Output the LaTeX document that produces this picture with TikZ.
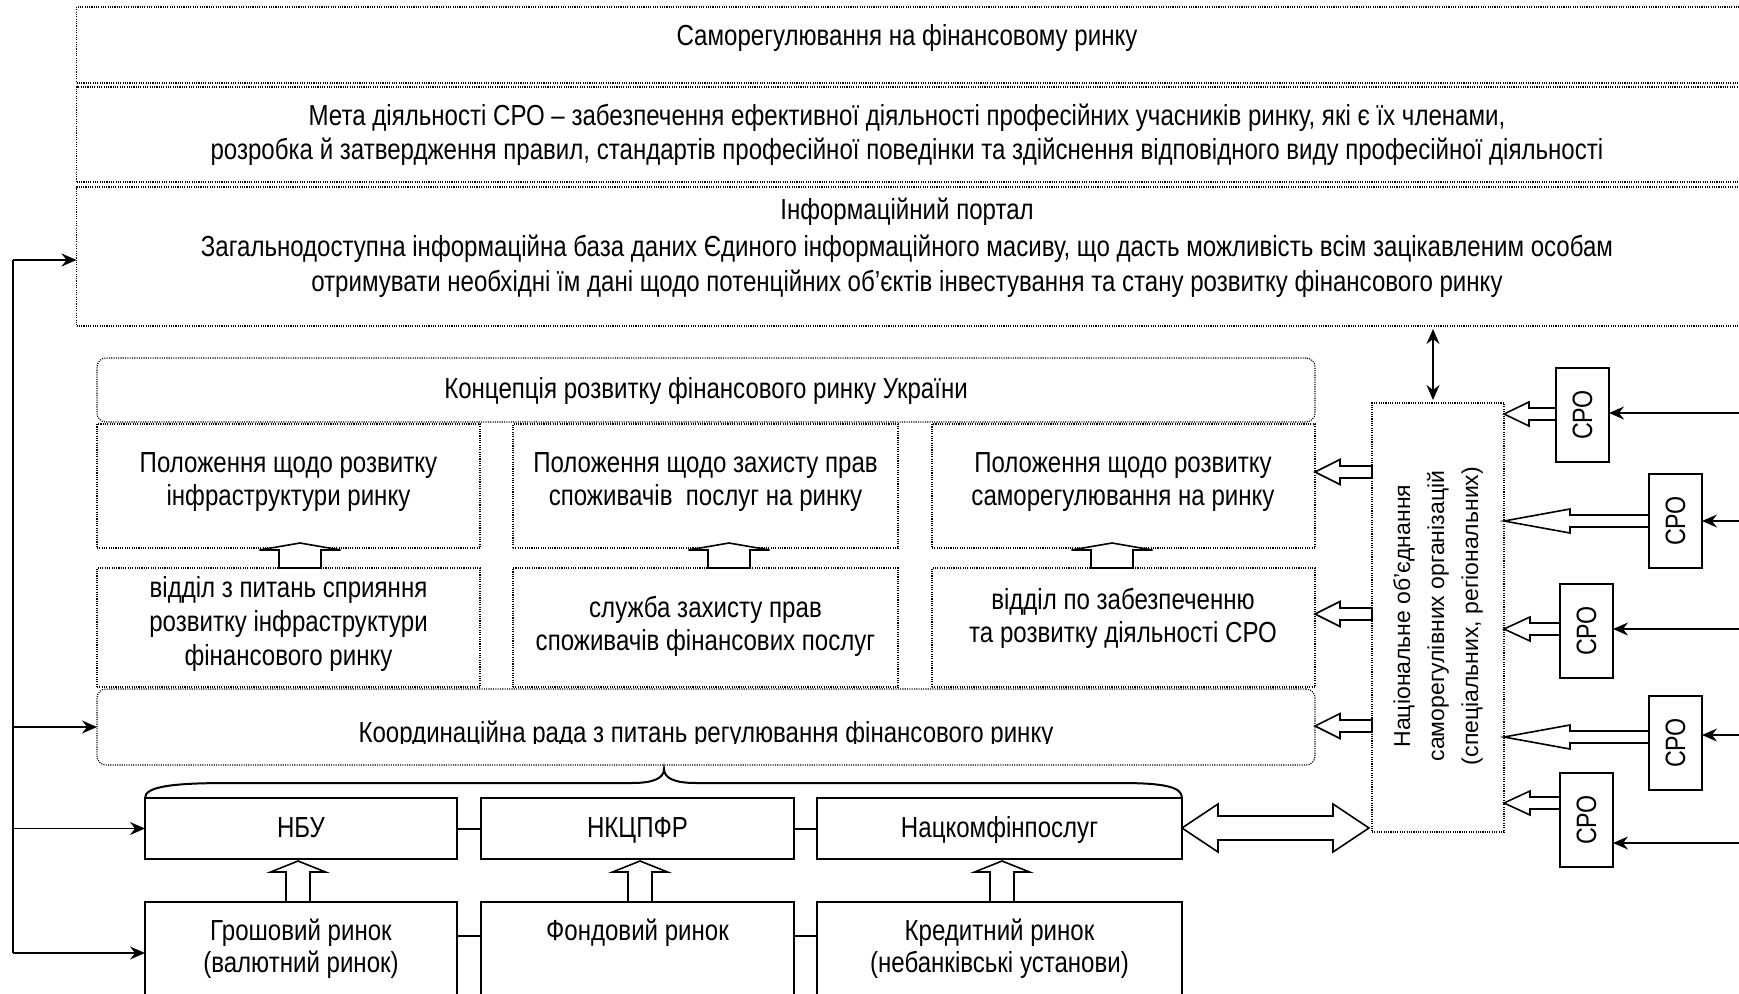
\documentclass[tikz,border=0pt]{standalone}
\usepackage{fontspec}
\setmainfont{Liberation Sans}[FakeStretch=0.83]
\newfontfamily\regfont{Liberation Sans}
\usetikzlibrary{arrows.meta,calc}
% hollow single arrow: tip, tail, head length, head half width, shaft half width
\newcommand\hollowarrow[5]{\draw[harr] (#1) -- ($(#1)!#3!(#2)!#4!90:(#2)$) -- ($(#1)!#3!(#2)!#5!90:(#2)$) -- ($(#2)!#5!-90:(#1)$) -- ($(#2)!#5!90:(#1)$) -- ($(#1)!#3!(#2)!#5!-90:(#2)$) -- ($(#1)!#3!(#2)!#4!-90:(#2)$) -- cycle;}
% hollow double arrow
\newcommand\hollowdarrow[5]{\draw[harr] (#1) -- ($(#1)!#3!(#2)!#4!90:(#2)$) -- ($(#1)!#3!(#2)!#5!90:(#2)$) -- ($(#2)!#3!(#1)!#5!-90:(#1)$) -- ($(#2)!#3!(#1)!#4!-90:(#1)$) -- (#2) -- ($(#2)!#3!(#1)!#4!90:(#1)$) -- ($(#2)!#3!(#1)!#5!90:(#1)$) -- ($(#1)!#3!(#2)!#5!-90:(#2)$) -- ($(#1)!#3!(#2)!#4!-90:(#2)$) -- cycle;}
\begin{document}
\begin{tikzpicture}[x=1pt,y=-1pt,
  dotbox/.style={draw, line width=1.1pt, dash pattern=on 1.1pt off 1.2pt, anchor=north west, inner sep=0pt, outer sep=0pt},
  rdotbox/.style={dotbox, rounded corners=9pt},
  solbox/.style={draw, line width=2pt, anchor=north west, inner sep=0pt, outer sep=0pt},
  txt/.style={anchor=base, inner sep=0pt, font=\fontsize{29}{34}\selectfont},
  cpotxt/.style={rotate=90, inner sep=0pt, font=\fontsize{28}{30}\selectfont},
  thinline/.style={line width=1.4pt},
  thinarr/.style={line width=1.4pt, -{Stealth[length=15pt,width=13pt,inset=5pt]}},
  twoarr/.style={line width=1.4pt, {Stealth[length=15pt,width=13pt,inset=5pt]}-{Stealth[length=15pt,width=13pt,inset=5pt]}},
  harr/.style={draw, line width=1.6pt, fill=white, line join=miter},
  conn/.style={line width=2pt},
]
\useasboundingbox (0,0) rectangle (1739,993);
\fill[white] (0,0) rectangle (1739,993);

% top band
\node[dotbox, minimum width=1672pt, minimum height=76pt] (b1) at (76.5,7) {};
\node[dotbox, minimum width=1672pt, minimum height=95pt] (b2) at (76.5,87) {};
\node[dotbox, minimum width=1672pt, minimum height=139pt] (b3) at (76.5,187) {};
\node[txt] (t1) at (907,45) {Саморегулювання на фінансовому ринку};
\node[txt] (t2a) at (907,125) {Мета діяльності СРО – забезпечення ефективної діяльності професійних учасників ринку, які є їх членами,};
\node[txt] (t2b) at (907,159) {розробка й затвердження правил, стандартів професійної поведінки та здійснення відповідного виду професійної діяльності};
\node[txt] (t3a) at (907,219) {Інформаційний портал};
\node[txt] (t3b) at (907,256) {Загальнодоступна інформаційна база даних Єдиного інформаційного масиву, що дасть можливість всім зацікавленим особам};
\node[txt] (t3c) at (907,291) {отримувати необхідні їм дані щодо потенційних об’єктів інвестування та стану розвитку фінансового ринку};

% concept
\node[rdotbox, minimum width=1218pt, minimum height=64pt] (con) at (97,358) {};
\node[txt] (cont) at (706,398) {Концепція розвитку фінансового ринку України};

% row 2
\node[dotbox, minimum width=383pt, minimum height=124pt] (rA1) at (97,424) {};
\node[dotbox, minimum width=385pt, minimum height=124pt] (rB1) at (513,424) {};
\node[dotbox, minimum width=383pt, minimum height=124pt] (rC1) at (932,424) {};
\node[txt] (rA1a) at (288.5,472) {Положення щодо розвитку};
\node[txt] (rA1b) at (288.5,505) {інфраструктури ринку};
\node[txt] (rB1a) at (705.5,472) {Положення щодо захисту прав};
\node[txt] (rB1b) at (705.5,505) {споживачів\ \ послуг на ринку};
\node[txt] (rC1a) at (1123,472) {Положення щодо розвитку};
\node[txt] (rC1b) at (1123,505) {саморегулювання на ринку};

% row 3
\node[dotbox, minimum width=383pt, minimum height=119pt] (rA2) at (97,568) {};
\node[dotbox, minimum width=385pt, minimum height=119pt] (rB2) at (513,568) {};
\node[dotbox, minimum width=383pt, minimum height=119pt] (rC2) at (932,568) {};
\node[txt] (rA2a) at (288.5,597) {відділ з питань сприяння};
\node[txt] (rA2b) at (288.5,631) {розвитку інфраструктури};
\node[txt] (rA2c) at (288.5,665) {фінансового ринку};
\node[txt] (rB2a) at (705.5,617) {служба захисту прав};
\node[txt] (rB2b) at (705.5,650) {споживачів фінансових послуг};
\node[txt] (rC2a) at (1123,609) {відділ по забезпеченню};
\node[txt] (rC2b) at (1123,642) {та розвитку діяльності СРО};

% coordination council
\node[rdotbox, minimum width=1218pt, minimum height=76pt] (k) at (97,689) {};
\begin{scope}
\clip (97,689) rectangle (1315,743);
\node[txt] (kt) at (706,742) {Координаційна рада з питань регулювання фінансового ринку};
\end{scope}

% regulators
\node[solbox, minimum width=312pt, minimum height=61pt] (nbu) at (145,798) {};
\node[solbox, minimum width=313pt, minimum height=61pt] (nk) at (481,798) {};
\node[solbox, minimum width=365pt, minimum height=61pt] (nf) at (817,798) {};
\node[txt] (nbut) at (301,837) {НБУ};
\node[txt] (nkt) at (637.5,837) {НКЦПФР};
\node[txt] (nft) at (999.5,837) {Нацкомфінпослуг};

% markets
\node[solbox, minimum width=312pt, minimum height=110pt] (gr) at (145,902) {};
\node[solbox, minimum width=313pt, minimum height=110pt] (fo) at (481,902) {};
\node[solbox, minimum width=365pt, minimum height=110pt] (kr) at (817,902) {};
\node[txt] (grt1) at (301,940) {Грошовий ринок};
\node[txt] (grt2) at (301,972) {(валютний ринок)};
\node[txt] (fot) at (637.5,940) {Фондовий ринок};
\node[txt] (krt1) at (999.5,940) {Кредитний ринок};
\node[txt] (krt2) at (999.5,972) {(небанківські установи)};

% national association
\node[dotbox, minimum width=132pt, minimum height=429pt] (nat) at (1372,403) {};
\node[rotate=90, align=center, inner sep=0pt, font=\regfont\fontsize{23}{34}\selectfont] (natt) at (1438,616) {Національне об’єднання\\саморегулівних організацій\\(спеціальних, регіональних)};

% SRO boxes
\node[solbox, minimum width=53pt, minimum height=94pt] (c1) at (1556,368) {};
\node[solbox, minimum width=53pt, minimum height=94pt] (c2) at (1649,474) {};
\node[solbox, minimum width=53pt, minimum height=94pt] (c3) at (1560,584) {};
\node[solbox, minimum width=53pt, minimum height=94pt] (c4) at (1649,696) {};
\node[solbox, minimum width=53pt, minimum height=94pt] (c5) at (1560,773) {};
\foreach \c in {c1,c2,c3,c4,c5} {\node[cpotxt] (\c t) at (\c.center) {СРО};}

% connectors between regulators / markets
\draw[conn] (nbu.east) -- (nk.west);
\draw[conn] (nk.east) -- (nf.west);
\draw[conn] (gr.east |- 0,936) -- (fo.west |- 0,936);
\draw[conn] (fo.east |- 0,936) -- (kr.west |- 0,936);

% brace
\draw[line width=2pt] (nbu.north west) .. controls (145,786) and (175,783) .. (230,783) -- (632,783) .. controls (654,783) and (664,778) .. (664,769) .. controls (664,778) and (674,783) .. (696,783) -- (1120,783) .. controls (1165,783) and (1182,787) .. (nf.north east);

% left feedback line
\coordinate (lt) at (13,260);
\coordinate (lb) at (13,953);
\draw[thinline] (lb) -- (lt);
\draw[thinarr] (lt) -- (lt -| b3.west);
\draw[thinarr] (k.west -| lt) -- (k.west);
\draw[thinarr] (nbu.west -| lt) -- (nbu.west);
\draw[thinarr] (lb) -- (lb -| gr.west);

% portal <-> national association
\draw[twoarr, shorten >=3pt, shorten <=3pt] ([xshift=-5pt]nat.north) -- ([xshift=-5pt]nat.north |- b3.south);

% right incoming arrows to SRO
\coordinate (r1) at (1745,413);
\coordinate (r2) at (1745,521);
\coordinate (r3) at (1745,629);
\coordinate (r4) at (1745,735);
\coordinate (r5) at (1745,843);
\draw[thinarr] (r1) -- (r1 -| c1.east);
\draw[thinarr] (r2) -- (r2 -| c2.east);
\draw[thinarr] (r3) -- (r3 -| c3.east);
\draw[thinarr] (r4) -- (r4 -| c4.east);
\draw[thinarr] (r5) -- (r5 -| c5.east);

% hollow arrows: national association -> concept boxes
\coordinate (h1t) at (rC1.east |- 0,472); \coordinate (h1s) at (nat.west |- 0,472);
\coordinate (h2t) at (rC2.east |- 0,614); \coordinate (h2s) at (nat.west |- 0,614);
\coordinate (h3t) at (k.east |- 0,726);   \coordinate (h3s) at (nat.west |- 0,726);
\hollowarrow{h1t}{h1s}{25pt}{12.5pt}{6pt}
\hollowarrow{h2t}{h2s}{25pt}{12.5pt}{6pt}
\hollowarrow{h3t}{h3s}{25pt}{12.5pt}{6pt}

% hollow arrows: SRO -> national association
\coordinate (s1t) at (nat.east |- 0,414); \coordinate (s1s) at (c1.west |- 0,414);
\coordinate (s2t) at (nat.east |- 0,521); \coordinate (s2s) at (c2.west |- 0,521);
\coordinate (s3t) at (nat.east |- 0,629); \coordinate (s3s) at (c3.west |- 0,629);
\coordinate (s4t) at (nat.east |- 0,737); \coordinate (s4s) at (c4.west |- 0,737);
\coordinate (s5t) at (nat.east |- 0,803); \coordinate (s5s) at (c5.west |- 0,803);
\hollowarrow{s1t}{s1s}{25pt}{12pt}{6pt}
\hollowarrow{s2t}{s2s}{66pt}{12pt}{6pt}
\hollowarrow{s3t}{s3s}{26pt}{12pt}{6pt}
\hollowarrow{s4t}{s4s}{66pt}{12pt}{6pt}
\hollowarrow{s5t}{s5s}{26pt}{12pt}{6pt}

% hollow double arrow regulators <-> national association
\coordinate (d1) at (nf.east |- 0,828);
\coordinate (d2) at ([xshift=-3pt]nat.west |- 0,828);
\hollowdarrow{d1}{d2}{36pt}{24pt}{12pt}

% squat up arrows between rows
\coordinate (uAt) at (300,543); \coordinate (uAs) at (rA2.north -| 300,0);
\coordinate (uBt) at (729,543); \coordinate (uBs) at (rB2.north -| 729,0);
\coordinate (uCt) at (1112,543); \coordinate (uCs) at (rC2.north -| 1112,0);
\hollowarrow{uAt}{uAs}{7pt}{40.5pt}{21pt}
\hollowarrow{uBt}{uBs}{7pt}{40.5pt}{21pt}
\hollowarrow{uCt}{uCs}{7pt}{40.5pt}{21pt}

% up arrows markets -> regulators
\coordinate (m1t) at ([yshift=-2pt]nbu.south -| 298,0); \coordinate (m1s) at (gr.north -| 298,0);
\coordinate (m2t) at ([yshift=-2pt]nk.south -| 640,0); \coordinate (m2s) at (fo.north -| 640,0);
\coordinate (m3t) at ([yshift=-2pt]nf.south -| 1002,0); \coordinate (m3s) at (kr.north -| 1002,0);
\hollowarrow{m1t}{m1s}{11pt}{27.5pt}{12pt}
\hollowarrow{m2t}{m2s}{11pt}{27.5pt}{12pt}
\hollowarrow{m3t}{m3s}{11pt}{27.5pt}{12pt}
\end{tikzpicture}
\end{document}
